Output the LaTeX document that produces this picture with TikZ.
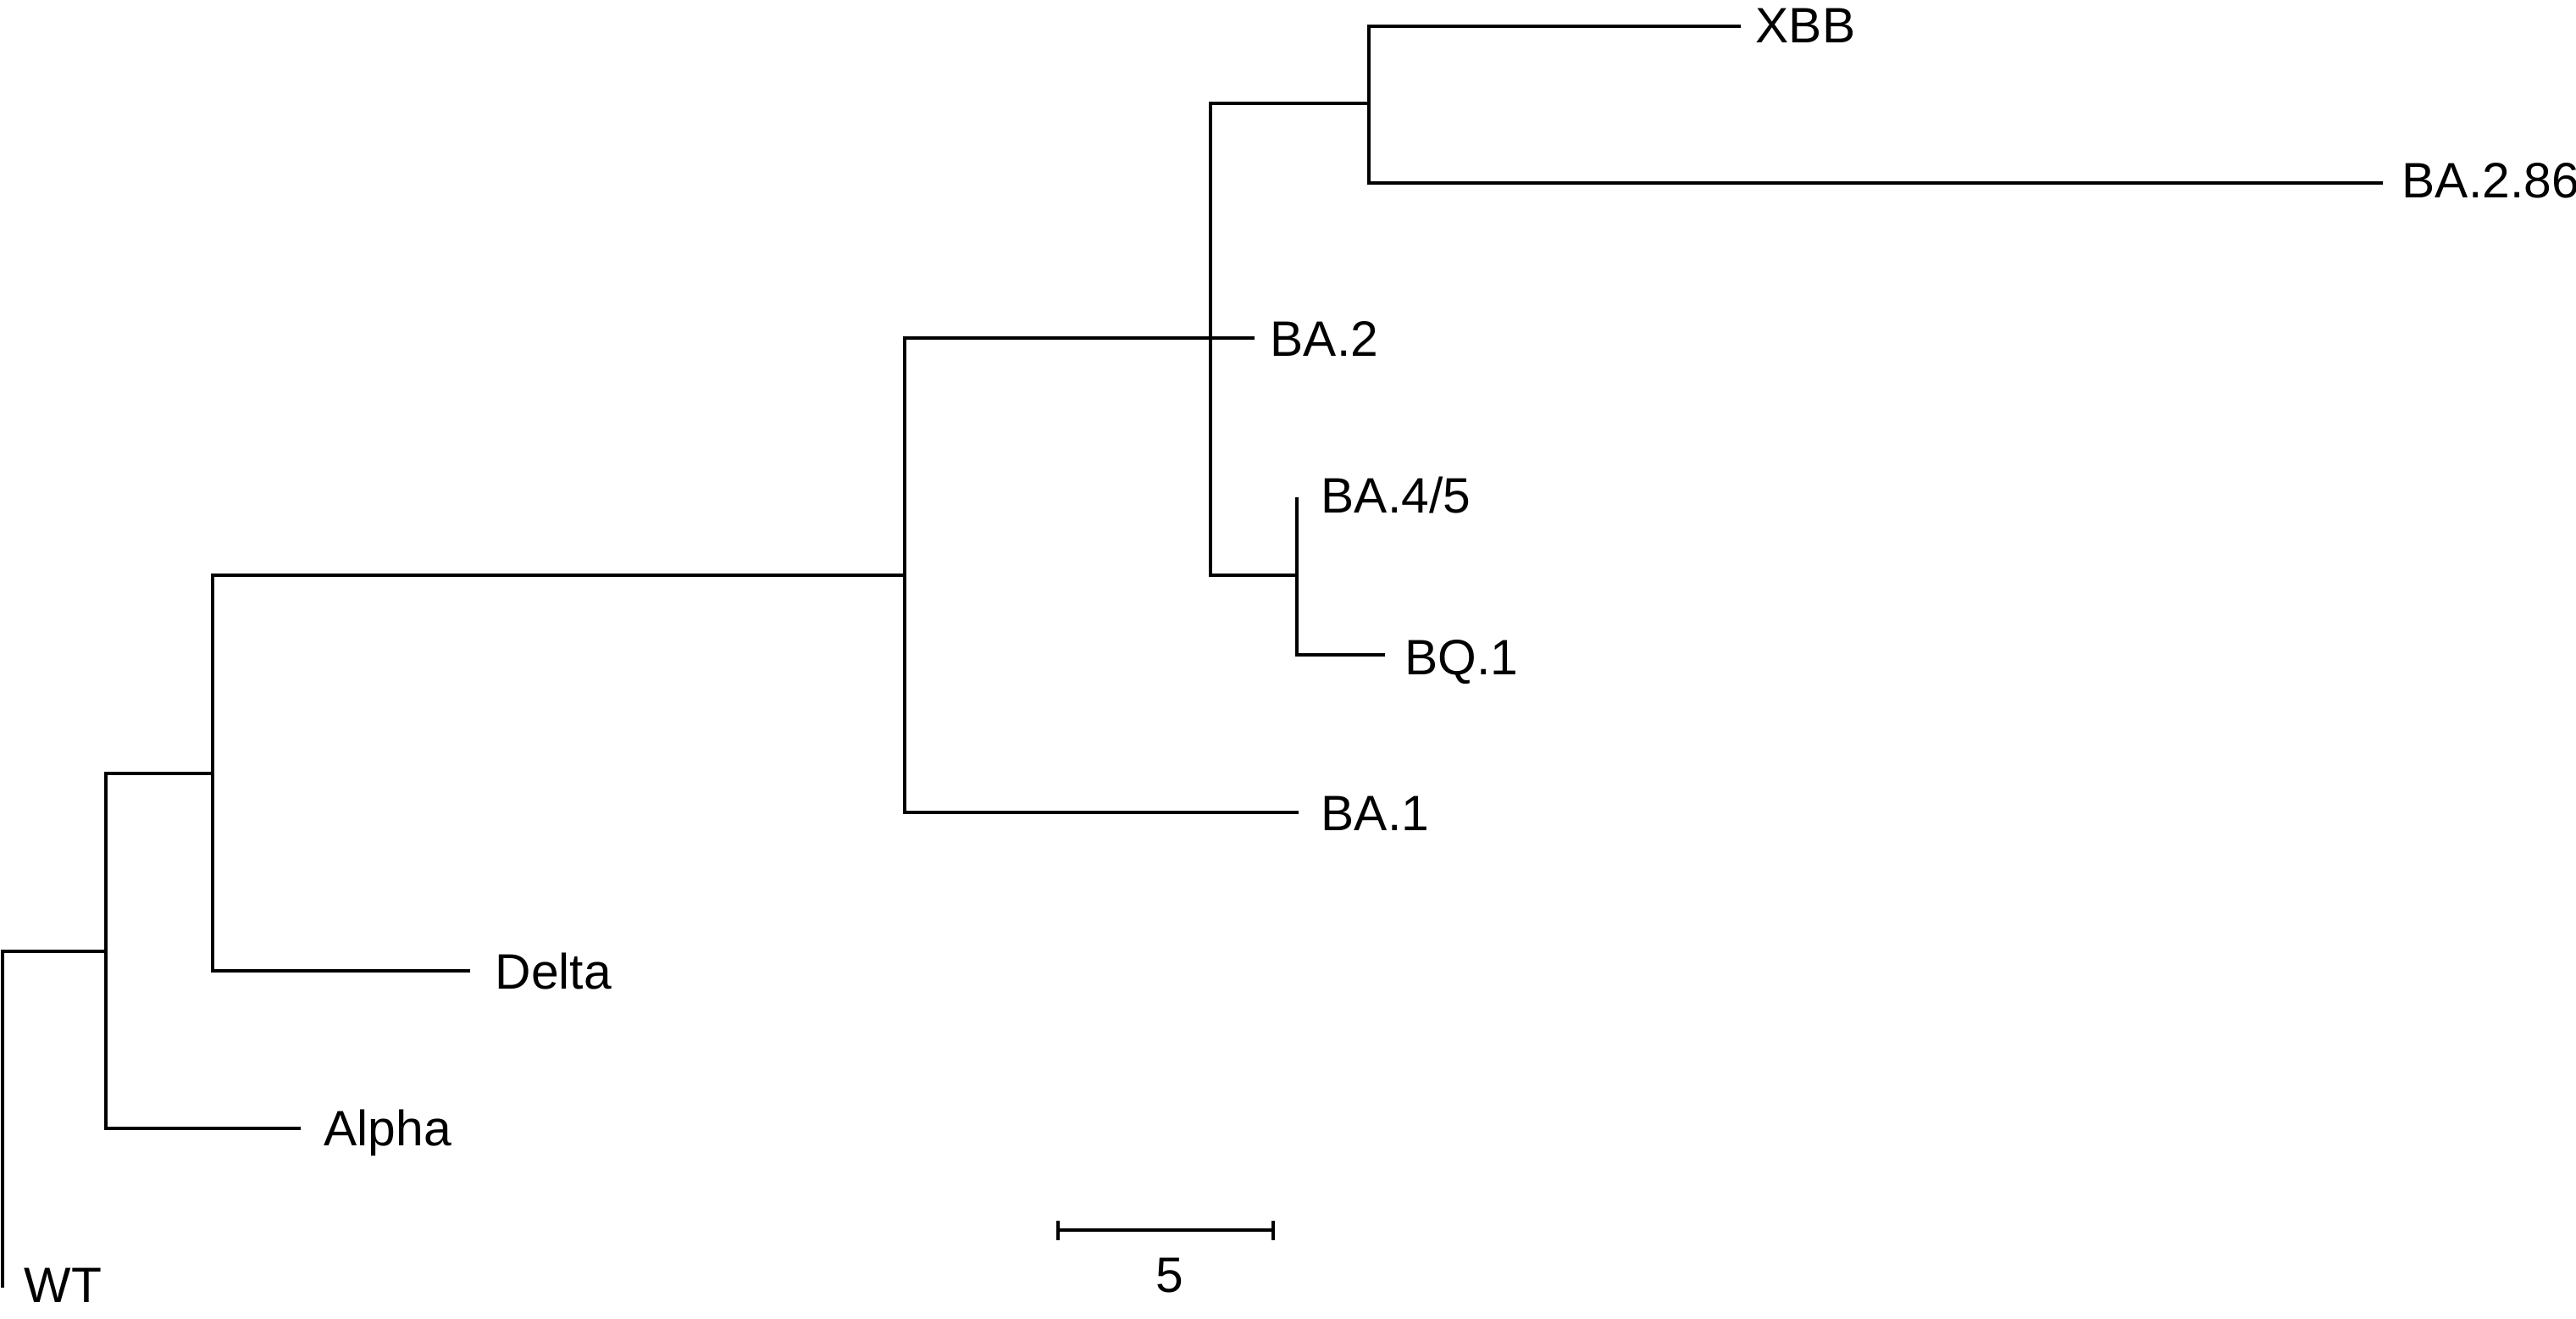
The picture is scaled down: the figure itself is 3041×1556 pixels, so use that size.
\documentclass[tikz,border=0pt]{standalone}
\usepackage{fontspec}
\setmainfont{Liberation Sans}
\begin{document}
\begin{tikzpicture}[x=0.01cm,y=-0.01cm,
  branch/.style={line width=1pt,line join=miter,black},
  leaflabel/.style={anchor=base west,inner sep=0pt,font=\fontsize{16.7}{20}\selectfont},
  scalelabel/.style={anchor=base,inner sep=0pt,font=\fontsize{16.7}{20}\selectfont}]
\useasboundingbox (0,0) rectangle (3041,1556);
% internal nodes
\coordinate (nA) at (125,1123);
\coordinate (nB) at (251,913);
\coordinate (nC) at (1068,679);
\coordinate (nD) at (1429,399);
\coordinate (nE) at (1616,122);
\coordinate (nF) at (1531,679);
% tips
\coordinate (wtT) at (3,1520);
\coordinate (alphaT) at (355,1332);
\coordinate (deltaT) at (555,1146);
\coordinate (ba1T) at (1533,959);
\coordinate (ba2T) at (1481,399);
\coordinate (ba45T) at (1531,587);
\coordinate (bq1T) at (1635,773);
\coordinate (xbbT) at (2055,31);
\coordinate (ba286T) at (2813,216);
% branches
\draw[branch] (wtT) |- (nA);
\draw[branch] (nB) -| (nA) |- (alphaT);
\draw[branch] (nC) -| (nB) |- (deltaT);
\draw[branch] (nD) -| (nC) |- (ba1T);
\draw[branch] (nD) -- (ba2T);
\draw[branch] (nE) -| (nD) |- (nF);
\draw[branch] (xbbT) -| (nE) |- (ba286T);
\draw[branch] (ba45T) -- (nF) |- (bq1T);
% labels
\node[leaflabel] (lWT) at (28,1537) {WT};
\node[leaflabel] (lAlpha) at (382,1352) {Alpha};
\node[leaflabel] (lDelta) at (584,1167) {Delta};
\node[leaflabel] (lBA1) at (1559,980) {BA.1};
\node[leaflabel] (lBQ1) at (1658,796) {BQ.1};
\node[leaflabel] (lBA45) at (1559,605) {BA.4/5};
\node[leaflabel] (lBA2) at (1499,420) {BA.2};
\node[leaflabel] (lXBB) at (2072,50) {XBB};
\node[leaflabel] (lBA286) at (2835,233) {BA.2.86};
% scale bar
\coordinate (sbL) at (1249,1452);
\coordinate (sbR) at (1503,1452);
\draw[branch] (sbL) -- (sbR);
\draw[branch] ([yshift=0.11cm]sbL) -- ([yshift=-0.12cm]sbL);
\draw[branch] ([yshift=0.11cm]sbR) -- ([yshift=-0.12cm]sbR);
\node[scalelabel] (sbText) at (1381,1525) {5};
\end{tikzpicture}
\end{document}
